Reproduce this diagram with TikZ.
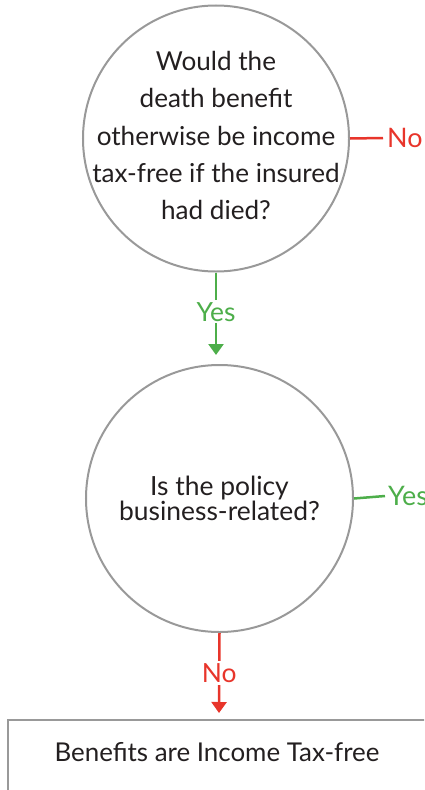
\documentclass[tikz,border=0pt]{standalone}
\usepackage{fontspec}
\setmainfont{Lato}
\usetikzlibrary{arrows.meta}
\definecolor{cgray}{HTML}{999999}
\definecolor{cred}{HTML}{E8352B}
\definecolor{cgreen}{HTML}{4DAE4A}
\definecolor{ctext}{HTML}{231F20}
\tikzset{
  decision/.style={circle, draw=cgray, line width=2bp, minimum size=266bp, inner sep=0pt},
  qtext/.style={align=center, text=ctext, inner sep=0pt},
  resultbox/.style={rectangle, draw=cgray, line width=2bp, anchor=north west, inner sep=0pt},
  yesline/.style={draw=cgreen, line width=2.5bp},
  noline/.style={draw=cred, line width=2.5bp},
  tip/.style={-{Triangle[width=15bp,length=11bp]}},
  lbl/.style={fill=white, inner sep=2bp, font=\fontsize{26.5}{30}\selectfont},
  side/.style={anchor=west, inner sep=0pt, font=\fontsize{27}{30}\selectfont},
}
\begin{document}
\begin{tikzpicture}[x=1bp,y=1bp]
\useasboundingbox (0,0) rectangle (424,-790);
\clip (0,0) rectangle (424,-790);
\node[decision] (c1) at (216,-138.5) {};
\node[qtext, font=\fontsize{26.2}{37.5}\selectfont] (c1text) at ([yshift=3bp]c1.center) {Would the\\death benefit\\otherwise be income\\tax-free if the insured\\had died?};
\node[decision, minimum size=267bp] (c2) at (219.5,-498.5) {};
\node[qtext, font=\fontsize{26.5}{25.5}\selectfont] (c2text) at (c2.center) {Is the policy\\business-related?};
\coordinate (a1) at (216,-355);
\coordinate (r1) at (383,-138);
\coordinate (r2) at (385,-496);
\coordinate (a2) at (219,-713);
\node[resultbox, minimum width=440bp, minimum height=90bp] (res) at (7,-719) {};
\node[text=ctext, font=\fontsize{26}{30}\selectfont] (restext) at (217,-752) {Benefits are Income Tax-free};
\draw[yesline, tip] (c1.south) -- node[lbl, text=cgreen, yshift=2bp] (y1) {Yes} (a1);
\draw[noline] (c1.east) -- (r1);
\node[side, text=cred] (n1) at ([xshift=4bp]r1) {No};
\draw[yesline] (c2.east) -- (r2);
\node[side, text=cgreen] (y2) at ([xshift=3bp]r2) {Yes};
\draw[noline, tip] (c2.south) -- node[lbl, text=cred] (n2) {No} (a2);
\end{tikzpicture}
\end{document}
